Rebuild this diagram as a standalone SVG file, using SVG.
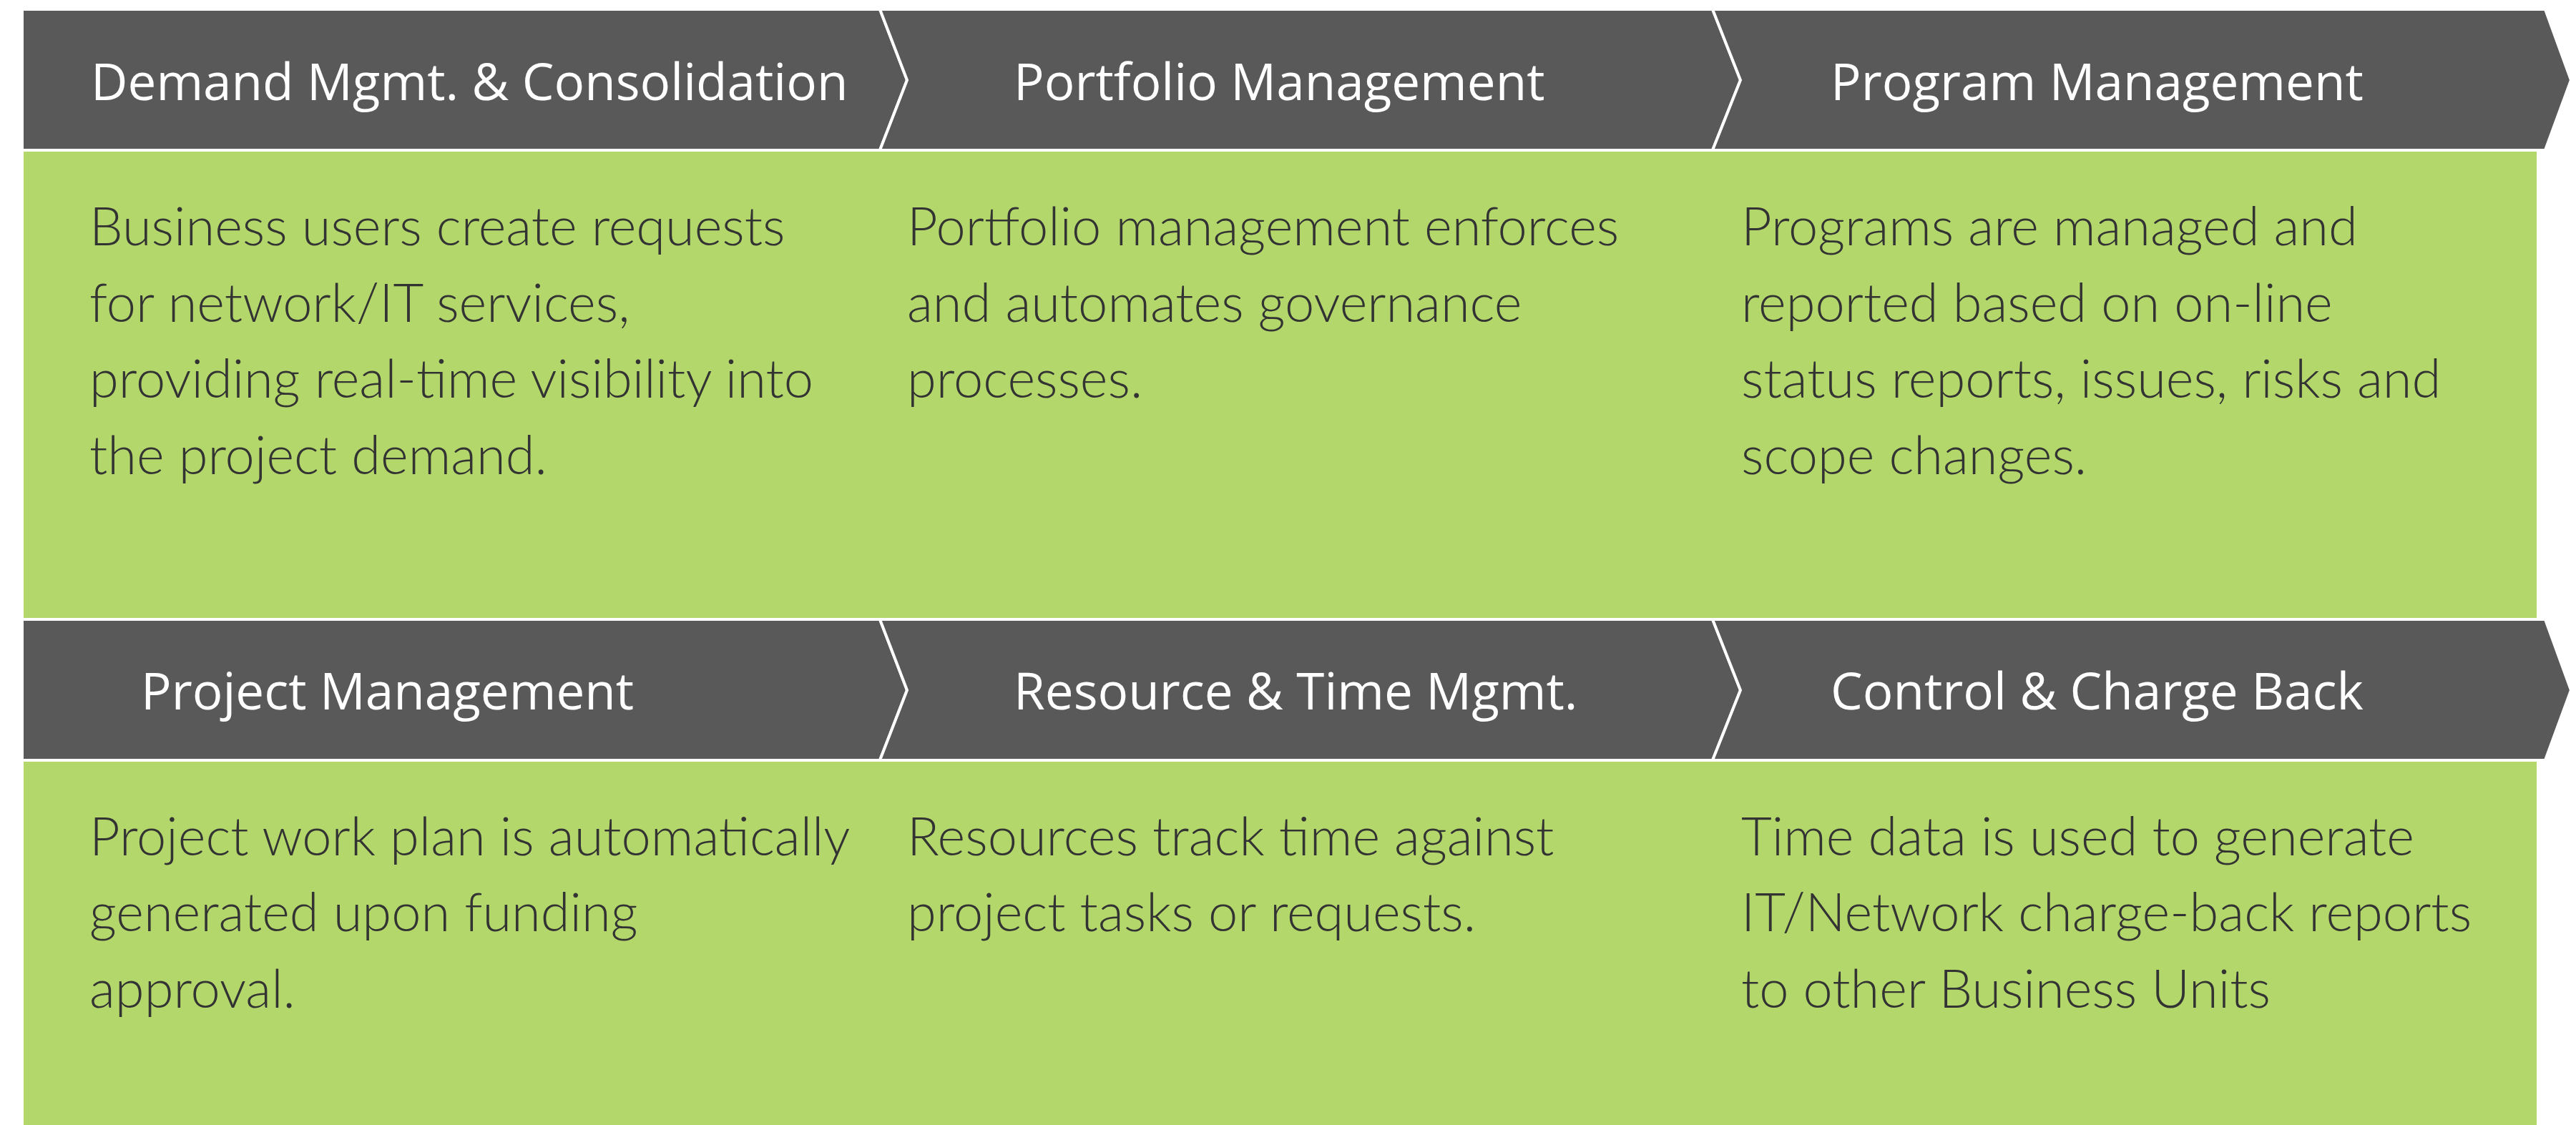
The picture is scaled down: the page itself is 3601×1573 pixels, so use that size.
<svg xmlns="http://www.w3.org/2000/svg" width="3601" height="1573" viewBox="0 0 3601 1573">
<style>
.chev{fill:#595959;stroke:#ffffff;stroke-width:4;stroke-linejoin:miter}
.box{fill:#B3D76B}
.hd{font-family:"Open Sans","Noto Sans","DejaVu Sans",sans-serif;font-size:71px;fill:#ffffff;font-weight:400}
.bd{font-family:Lato,"Open Sans","DejaVu Sans",sans-serif;font-size:74px;fill:#333333;font-weight:300}
</style>
<rect x="0" y="0" width="3601" height="1573" fill="#ffffff"/>
<g id="connectors"></g>
<g id="demand">
<rect class="box" x="33" y="212" width="1217" height="652"/>
<polygon class="chev" points="31,13 1230,13 1268,112 1230,210 31,210"/>
<text class="hd" x="127" y="140">Demand Mgmt. &amp; Consolidation</text>
<text class="bd"><tspan x="125" y="343">Business users create requests</tspan><tspan x="125" y="450">for network/IT services,</tspan><tspan x="125" y="556">providing real-time visibility into</tspan><tspan x="125" y="663">the project demand.</tspan></text>
</g>
<g id="portfolio">
<rect class="box" x="1250" y="212" width="1165" height="652"/>
<polygon class="chev" points="1230,13 2394,13 2433,112 2394,210 1230,210 1268,112"/>
<text class="hd" x="1417" y="140">Portfolio Management</text>
<text class="bd"><tspan x="1268" y="343">Portfolio management enforces</tspan><tspan x="1268" y="450">and automates governance</tspan><tspan x="1268" y="556">processes.</tspan></text>
</g>
<g id="program">
<rect class="box" x="2415" y="212" width="1131" height="652"/>
<polygon class="chev" points="2394,13 3558,13 3594,112 3558,210 2394,210 2433,112"/>
<text class="hd" x="2559" y="140">Program Management</text>
<text class="bd"><tspan x="2434" y="343">Programs are managed and</tspan><tspan x="2434" y="450">reported based on on-line</tspan><tspan x="2434" y="556">status reports, issues, risks and</tspan><tspan x="2434" y="663">scope changes.</tspan></text>
</g>
<g id="project">
<rect class="box" x="33" y="1065" width="1217" height="508"/>
<polygon class="chev" points="31,866 1230,866 1268,965 1230,1063 31,1063"/>
<text class="hd" x="197" y="992">Project Management</text>
<text class="bd"><tspan x="125" y="1196">Project work plan is automatically</tspan><tspan x="125" y="1302">generated upon funding</tspan><tspan x="125" y="1409">approval.</tspan></text>
</g>
<g id="resource">
<rect class="box" x="1250" y="1065" width="1165" height="508"/>
<polygon class="chev" points="1230,866 2394,866 2433,965 2394,1063 1230,1063 1268,965"/>
<text class="hd" x="1417" y="992">Resource &amp; Time Mgmt.</text>
<text class="bd"><tspan x="1268" y="1196">Resources track time against</tspan><tspan x="1268" y="1302">project tasks or requests.</tspan></text>
</g>
<g id="control">
<rect class="box" x="2415" y="1065" width="1131" height="508"/>
<polygon class="chev" points="2394,866 3558,866 3594,965 3558,1063 2394,1063 2433,965"/>
<text class="hd" x="2559" y="992">Control &amp; Charge Back</text>
<text class="bd"><tspan x="2434" y="1196">Time data is used to generate</tspan><tspan x="2434" y="1302">IT/Network charge-back reports</tspan><tspan x="2434" y="1409">to other Business Units</tspan></text>
</g>
</svg>
